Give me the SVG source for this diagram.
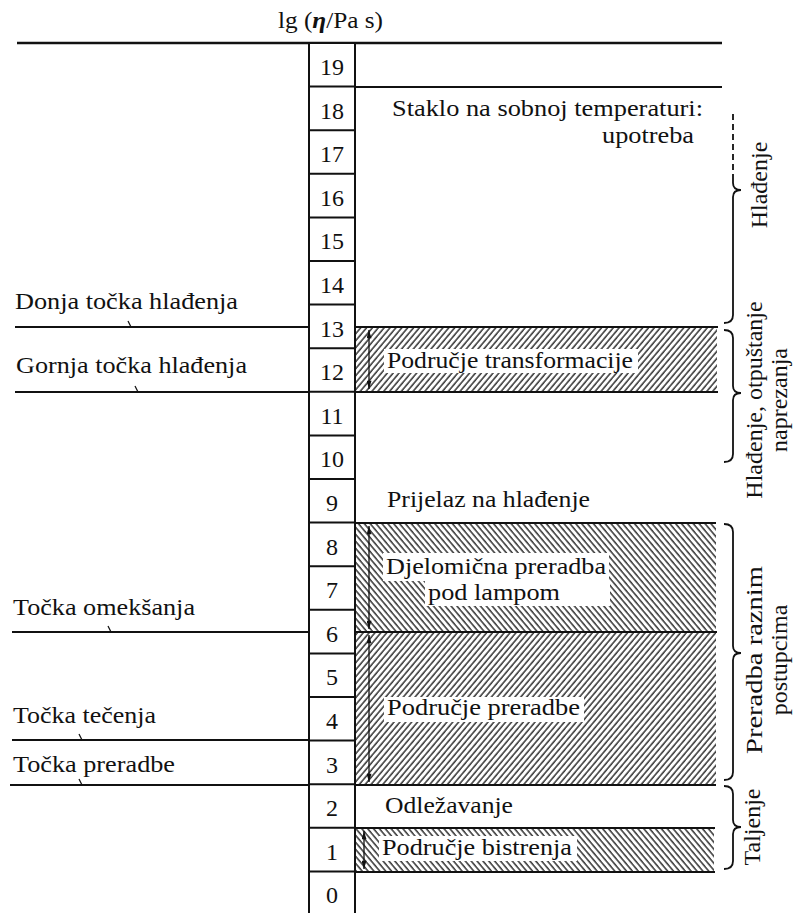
<svg xmlns="http://www.w3.org/2000/svg" width="796" height="913" viewBox="0 0 796 913">
<style>
text{font-family:"Liberation Serif","Times New Roman",serif;font-size:24px;fill:#111}
.ln{stroke:#111;stroke-width:2;fill:none}
.cell{stroke:#111;stroke-width:2;fill:#fff}
.num{text-anchor:middle}
.br{stroke:#111;stroke-width:1.8;fill:none}
.tk{stroke:#111;stroke-width:1.3;fill:none}
.ar{stroke:#111;stroke-width:1.3;fill:none;marker-start:url(#ah);marker-end:url(#ah)}
.wb{fill:#fff}
.rot{text-anchor:middle}
</style>
<defs>
<pattern id="hF" patternUnits="userSpaceOnUse" width="4.5" height="10" patternTransform="rotate(40)">
<line x1="1" y1="0" x2="1" y2="10" stroke="#222" stroke-width="1.4"/>
</pattern>
<pattern id="hB" patternUnits="userSpaceOnUse" width="4.5" height="10" patternTransform="rotate(-40)">
<line x1="1" y1="0" x2="1" y2="10" stroke="#222" stroke-width="1.4"/>
</pattern>
<marker id="ah" viewBox="0 0 10 6" refX="10" refY="3" markerWidth="9" markerHeight="5" markerUnits="userSpaceOnUse" orient="auto-start-reverse">
<path d="M0,0 L10,3 L0,6 Z" fill="#111"/>
</marker>
</defs>
<rect width="796" height="913" fill="#fff"/>

<g id="axis-title">
<text x="278" y="28" textLength="105" lengthAdjust="spacingAndGlyphs">lg (<tspan font-weight="bold" font-style="italic">η</tspan>/Pa s)</text>
</g>

<g id="frame-lines">
<line class="ln" x1="17" y1="43" x2="722" y2="43" style="stroke-width:2.5"/>
<line class="ln" x1="355" y1="87" x2="722" y2="87"/>
</g>

<g id="regions">
<g id="region-transformacija">
<rect x="355" y="327" width="362" height="65" fill="url(#hF)"/>
<rect class="wb" x="384" y="349" width="254" height="24"/>
<line class="ln" x1="355" y1="327" x2="718" y2="327"/>
<line class="ln" x1="355" y1="392" x2="718" y2="392"/>
<line class="ar" x1="369" y1="330" x2="369" y2="389"/>
<text x="387" y="368" textLength="246" lengthAdjust="spacingAndGlyphs">Područje transformacije</text>
</g>
<g id="region-djelomicna">
<rect x="355" y="523" width="361" height="109" fill="url(#hB)"/>
<rect class="wb" x="383" y="553" width="226" height="28"/>
<rect class="wb" x="425" y="580" width="185" height="26"/>
<line class="ln" x1="355" y1="523" x2="716" y2="523"/>
<line class="ar" x1="369" y1="526" x2="369" y2="629"/>
<text x="386" y="574" font-size="22" textLength="220" lengthAdjust="spacingAndGlyphs">Djelomična preradba</text>
<text x="428" y="600" font-size="22" textLength="132" lengthAdjust="spacingAndGlyphs">pod lampom</text>
</g>
<g id="region-preradbe">
<rect x="355" y="632" width="361" height="153" fill="url(#hF)"/>
<rect class="wb" x="384" y="697" width="200" height="25"/>
<line class="ln" x1="355" y1="632" x2="717" y2="632"/>
<line class="ln" x1="355" y1="785" x2="716" y2="785"/>
<line class="ar" x1="369" y1="635" x2="369" y2="782"/>
<text x="387" y="715" textLength="193" lengthAdjust="spacingAndGlyphs">Područje preradbe</text>
</g>
<g id="region-bistrenje">
<rect x="355" y="828" width="359" height="44" fill="url(#hB)"/>
<rect class="wb" x="379" y="836" width="198" height="25"/>
<line class="ln" x1="355" y1="828" x2="715" y2="828"/>
<line class="ln" x1="355" y1="872" x2="715" y2="872"/>
<line class="ar" x1="364" y1="831" x2="364" y2="869"/>
<text x="382" y="855" textLength="190" lengthAdjust="spacingAndGlyphs">Područje bistrenja</text>
</g>
</g>

<g id="scale-column">
<rect class="cell" x="309" y="43" width="46" height="880"/>
<g class="ln">
<line x1="309" y1="86.6" x2="355" y2="86.6"/>
<line x1="309" y1="130.2" x2="355" y2="130.2"/>
<line x1="309" y1="173.8" x2="355" y2="173.8"/>
<line x1="309" y1="217.4" x2="355" y2="217.4"/>
<line x1="309" y1="261" x2="355" y2="261"/>
<line x1="309" y1="304.6" x2="355" y2="304.6"/>
<line x1="309" y1="348.2" x2="355" y2="348.2"/>
<line x1="309" y1="391.8" x2="355" y2="391.8"/>
<line x1="309" y1="435.4" x2="355" y2="435.4"/>
<line x1="309" y1="479" x2="355" y2="479"/>
<line x1="309" y1="522.6" x2="355" y2="522.6"/>
<line x1="309" y1="566.2" x2="355" y2="566.2"/>
<line x1="309" y1="609.8" x2="355" y2="609.8"/>
<line x1="309" y1="653.4" x2="355" y2="653.4"/>
<line x1="309" y1="697" x2="355" y2="697"/>
<line x1="309" y1="740.6" x2="355" y2="740.6"/>
<line x1="309" y1="784.2" x2="355" y2="784.2"/>
<line x1="309" y1="827.8" x2="355" y2="827.8"/>
<line x1="309" y1="871.4" x2="355" y2="871.4"/>
</g>
<g>
<text class="num" x="332" y="75">19</text>
<text class="num" x="332" y="118.6">18</text>
<text class="num" x="332" y="162.2">17</text>
<text class="num" x="332" y="205.8">16</text>
<text class="num" x="332" y="249.4">15</text>
<text class="num" x="332" y="293">14</text>
<text class="num" x="332" y="336.6">13</text>
<text class="num" x="332" y="380.2">12</text>
<text class="num" x="332" y="423.8">11</text>
<text class="num" x="332" y="467.4">10</text>
<text class="num" x="332" y="511">9</text>
<text class="num" x="332" y="554.6">8</text>
<text class="num" x="332" y="598.2">7</text>
<text class="num" x="332" y="641.8">6</text>
<text class="num" x="332" y="685.4">5</text>
<text class="num" x="332" y="729">4</text>
<text class="num" x="332" y="772.6">3</text>
<text class="num" x="332" y="816.2">2</text>
<text class="num" x="332" y="859.8">1</text>
<text class="num" x="332" y="903.4">0</text>
</g>
</g>

<g id="left-labels">
<g id="donja-tocka">
<line class="ln" x1="15" y1="327" x2="309" y2="327"/>
<path class="tk" d="M128,321 L131,327"/>
<text x="15" y="309" textLength="223" lengthAdjust="spacingAndGlyphs">Donja točka hlađenja</text>
</g>
<g id="gornja-tocka">
<line class="ln" x1="15" y1="392" x2="309" y2="392"/>
<path class="tk" d="M135,386 L138,392"/>
<text x="16" y="373" textLength="231" lengthAdjust="spacingAndGlyphs">Gornja točka hlađenja</text>
</g>
<g id="tocka-omeksanja">
<line class="ln" x1="12" y1="632" x2="309" y2="632"/>
<path class="tk" d="M108,626 L111,632"/>
<text x="13" y="615" textLength="182" lengthAdjust="spacingAndGlyphs">Točka omekšanja</text>
</g>
<g id="tocka-tecenja">
<line class="ln" x1="12" y1="740" x2="309" y2="740"/>
<path class="tk" d="M79,734 L82,740"/>
<text x="13" y="723" textLength="143" lengthAdjust="spacingAndGlyphs">Točka tečenja</text>
</g>
<g id="tocka-preradbe">
<line class="ln" x1="10" y1="785" x2="309" y2="785"/>
<path class="tk" d="M79,779 L82,785"/>
<text x="13" y="772" textLength="162" lengthAdjust="spacingAndGlyphs">Točka preradbe</text>
</g>
</g>

<g id="right-texts">
<text x="392" y="116" textLength="311" lengthAdjust="spacingAndGlyphs">Staklo na sobnoj temperaturi:</text>
<text x="602" y="143" textLength="92" lengthAdjust="spacingAndGlyphs">upotreba</text>
<text x="387" y="507" textLength="203" lengthAdjust="spacingAndGlyphs">Prijelaz na hlađenje</text>
<text x="385" y="813" textLength="128" lengthAdjust="spacingAndGlyphs">Odležavanje</text>
</g>

<g id="braces">
<g id="brace-hladenje">
<line class="br" x1="733" y1="114" x2="733" y2="180" stroke-dasharray="6 4"/>
<path class="br" d="M733,180 L733,183 Q733,190 741,190 Q733,190 733,197 L733,315 Q733,323 724,323"/>
<text class="rot" transform="translate(767,185) rotate(-90)" font-size="25">Hlađenje</text>
</g>
<g id="brace-otpustanje">
<path class="br" d="M724,330 Q733,330 733,338 L733,386 Q733,393 741,393 Q733,393 733,400 L733,454 Q733,462 724,462"/>
<text class="rot" transform="translate(762,400) rotate(-90)" font-size="25">Hlađenje, otpuštanje</text>
<text class="rot" transform="translate(787,400) rotate(-90)" font-size="25">naprezanja</text>
</g>
<g id="brace-preradba">
<path class="br" d="M724,524 Q733,524 733,532 L733,646 Q733,653 741,653 Q733,653 733,660 L733,772 Q733,780 724,780"/>
<text class="rot" transform="translate(762,660) rotate(-90)" font-size="25" textLength="188" lengthAdjust="spacingAndGlyphs">Preradba raznim</text>
<text class="rot" transform="translate(787,660) rotate(-90)" font-size="25">postupcima</text>
</g>
<g id="brace-taljenje">
<path class="br" d="M724,786 Q733,786 733,794 L733,820 Q733,827 741,827 Q733,827 733,834 L733,861 Q733,869 724,869"/>
<text class="rot" transform="translate(760,827) rotate(-90)" font-size="25">Taljenje</text>
</g>
</g>
</svg>
